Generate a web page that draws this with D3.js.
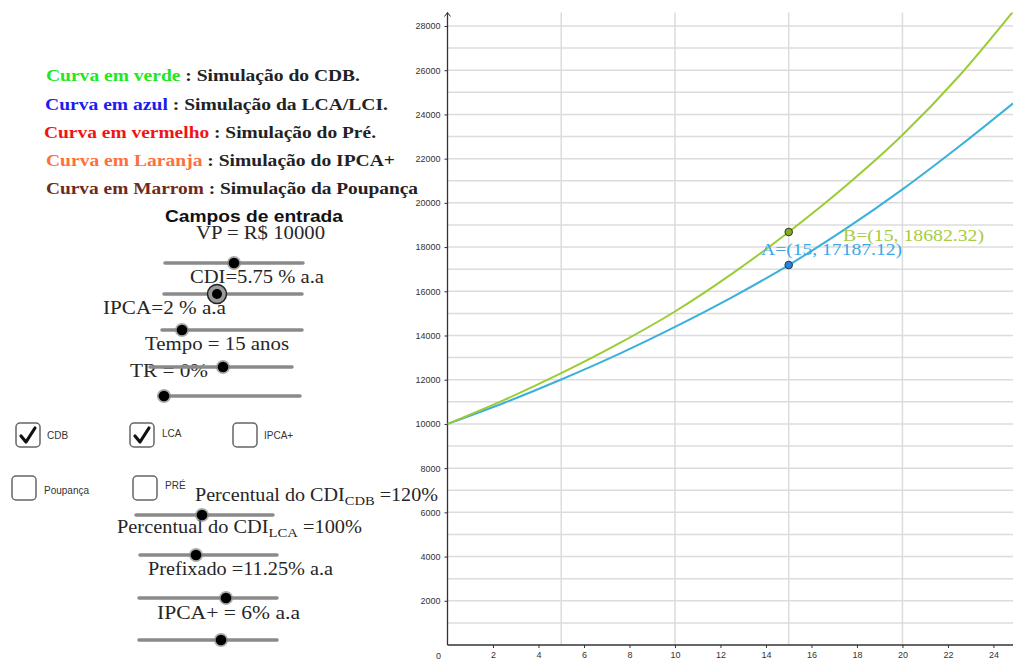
<!DOCTYPE html>
<html>
<head>
<meta charset="utf-8">
<script src="https://cdn.jsdelivr.net/npm/d3@7"></script>
<style>
  html, body { margin: 0; padding: 0; background: #fff; }
  svg { display: block; }
</style>
</head>
<body>
<svg id="chart" width="1013" height="663"></svg>
<script>
// ---------- data ----------
const years = [0, 2.5, 5, 7.5, 10, 12.5, 15, 17.5, 20, 22.5, 24.86];
const cdbValues = [10000, 11088, 12294, 13619, 15086, 16788, 18682, 20760, 23068, 25750, 28650];
const lcaValues = [10000, 10959, 12010, 13146, 14389, 15726, 17187, 18821, 20610, 22560, 24500];
const pointA = { name: "A", x: 15, y: 17187.12 };
const pointB = { name: "B", x: 15, y: 18682.32 };
const xTicks = [2, 4, 6, 8, 10, 12, 14, 16, 18, 20, 22, 24];
const yTicks = [2000, 4000, 6000, 8000, 10000, 12000, 14000, 16000, 18000, 20000, 22000, 24000, 26000, 28000];
const xGrid = [5, 10, 15, 20];
const yGrid = d3.range(1000, 28001, 1000);

const legendLines = [
  { color: "#22e622", colored: "Curva em verde", rest: " : Simulação do CDB." },
  { color: "#1c1cf0", colored: "Curva em azul", rest: " : Simulação da LCA/LCI." },
  { color: "#f01414", colored: "Curva em vermelho", rest: " : Simulação do Pré." },
  { color: "#ff6e3c", colored: "Curva em Laranja", rest: " : Simulação do IPCA+" },
  { color: "#6e2a1c", colored: "Curva em Marrom", rest: " : Simulação da Poupança" }
];

const svg = d3.select("#chart");
svg.append("rect").attr("width", 1013).attr("height", 663).attr("fill", "#fff");

// ---------- scales ----------
const x = d3.scaleLinear().domain([0, 24.86]).range([447.5, 1013]);
const y = d3.scaleLinear().domain([0, 28000]).range([645, 26]);
const plotTop = 12.5;

// ---------- grid ----------
const grid = svg.append("g");
grid.selectAll("line.h").data(yGrid).join("line")
  .attr("x1", x(0)).attr("x2", 1013)
  .attr("y1", d => y(d)).attr("y2", d => y(d))
  .attr("stroke", "#dcdcdc").attr("stroke-width", 1.5);
grid.selectAll("line.v").data(xGrid).join("line")
  .attr("x1", d => x(d)).attr("x2", d => x(d))
  .attr("y1", plotTop).attr("y2", y(0))
  .attr("stroke", "#dcdcdc").attr("stroke-width", 1.5);

// ---------- axes ----------
const xAxis = d3.axisBottom(x).tickValues(xTicks).tickSize(3).tickPadding(4).tickFormat(d3.format("d"));
const yAxis = d3.axisLeft(y).tickValues(yTicks).tickSize(3).tickPadding(4).tickFormat(d3.format("d"));
const gx = svg.append("g").attr("transform", `translate(0,${y(0)})`).call(xAxis);
const gy = svg.append("g").attr("transform", `translate(${x(0)},0)`).call(yAxis);
[gx, gy].forEach(g => {
  g.select(".domain").remove();
  g.selectAll("line").attr("stroke", "#333").attr("stroke-width", 1);
  g.selectAll("text").attr("font-family", "Liberation Sans, Arial, sans-serif")
    .attr("font-size", 9).attr("fill", "#333");
});
svg.append("line").attr("x1", x(0)).attr("x2", 1013).attr("y1", y(0)).attr("y2", y(0))
  .attr("stroke", "#333").attr("stroke-width", 1.3);
svg.append("line").attr("x1", x(0)).attr("x2", x(0)).attr("y1", y(0)).attr("y2", plotTop)
  .attr("stroke", "#333").attr("stroke-width", 1.3);
svg.append("path").attr("d", `M${x(0)-3},${plotTop+4} L${x(0)},${plotTop} L${x(0)+3},${plotTop+4}`)
  .attr("fill", "none").attr("stroke", "#333").attr("stroke-width", 1);
svg.append("text").attr("x", x(0) - 9).attr("y", y(0) + 14).attr("text-anchor", "middle")
  .attr("font-family", "Liberation Sans, Arial, sans-serif").attr("font-size", 9).attr("fill", "#333").text("0");

// ---------- curves ----------
svg.append("clipPath").attr("id", "plotclip").append("rect")
  .attr("x", x(0)).attr("y", plotTop).attr("width", 1013 - x(0)).attr("height", y(0) - plotTop);
const line = d3.line().x(d => x(d[0])).y(d => y(d[1])).curve(d3.curveMonotoneX);
const curves = svg.append("g").attr("clip-path", "url(#plotclip)");
curves.append("path").datum(years.map((t, i) => [t, lcaValues[i]])).attr("d", line)
  .attr("fill", "none").attr("stroke", "#3ab0da").attr("stroke-width", 2);
curves.append("path").datum(years.map((t, i) => [t, cdbValues[i]])).attr("d", line)
  .attr("fill", "none").attr("stroke", "#9ccc35").attr("stroke-width", 2);

// ---------- points and labels ----------
svg.append("circle").attr("cx", x(pointB.x)).attr("cy", y(pointB.y)).attr("r", 3.8)
  .attr("fill", "#7faf1c").attr("stroke", "#333").attr("stroke-width", 1);
svg.append("circle").attr("cx", x(pointA.x)).attr("cy", y(pointA.y)).attr("r", 3.8)
  .attr("fill", "#1e88e5").attr("stroke", "#333").attr("stroke-width", 1);
svg.append("text").attr("x", 843).attr("y", 241)
  .attr("font-family", "Liberation Serif, serif").attr("font-size", 17).attr("fill", "#a6cc3e")
  .attr("textLength", 141).attr("lengthAdjust", "spacingAndGlyphs")
  .text(`${pointB.name}=(${pointB.x}, ${pointB.y.toFixed(2)})`);
svg.append("text").attr("x", 761).attr("y", 255)
  .attr("font-family", "Liberation Serif, serif").attr("font-size", 17).attr("fill", "#3aa6ea")
  .attr("textLength", 141).attr("lengthAdjust", "spacingAndGlyphs")
  .text(`${pointA.name}=(${pointA.x}, ${pointA.y.toFixed(2)})`);

// ---------- legend text ----------
const legendPos = [
  { x: 46, y: 81, w: 314 }, { x: 45, y: 110, w: 343 }, { x: 44, y: 138, w: 332 },
  { x: 46, y: 166, w: 349 }, { x: 46, y: 194, w: 372 }
];
legendLines.forEach((l, i) => {
  const p = legendPos[i];
  const t = svg.append("text").attr("x", p.x).attr("y", p.y)
    .attr("font-family", "Liberation Serif, serif").attr("font-size", 17.5).attr("font-weight", "bold")
    .attr("textLength", p.w).attr("lengthAdjust", "spacingAndGlyphs");
  t.append("tspan").attr("fill", l.color).text(l.colored);
  t.append("tspan").attr("fill", "#222").text(l.rest);
});

svg.append("text").attr("x", 165).attr("y", 222)
  .attr("font-family", "Liberation Sans, Arial, sans-serif").attr("font-size", 16).attr("font-weight", "bold")
  .attr("fill", "#111").attr("textLength", 178).attr("lengthAdjust", "spacingAndGlyphs")
  .text("Campos de entrada");

// ---------- serif labels ----------
function serifLabel(px, py, w, parts) {
  const t = svg.append("text").attr("x", px).attr("y", py)
    .attr("font-family", "Liberation Serif, serif").attr("font-size", 18).attr("fill", "#262626")
    .attr("textLength", w).attr("lengthAdjust", "spacingAndGlyphs");
  parts.forEach(p => {
    if (typeof p === "string") t.append("tspan").text(p);
    else {
      t.append("tspan").attr("font-size", 13).attr("dy", 4).text(p.sub);
      t.append("tspan").attr("dy", -4).text(p.after);
    }
  });
}
serifLabel(196, 239, 129, ["VP = R$ 10000"]);
serifLabel(190, 283, 134, ["CDI=5.75 % a.a"]);
serifLabel(103, 314, 123, ["IPCA=2 % a.a"]);
serifLabel(145, 350, 144, ["Tempo = 15 anos"]);
serifLabel(130, 377, 78, ["TR = 0%"]);
serifLabel(195, 501, 243, ["Percentual do CDI", { sub: "CDB", after: " =120%" }]);
serifLabel(117, 533, 245, ["Percentual do CDI", { sub: "LCA", after: " =100%" }]);
serifLabel(148, 575, 185, ["Prefixado =11.25% a.a"]);
serifLabel(157, 619, 143, ["IPCA+ = 6% a.a"]);

// ---------- sliders ----------
const sliders = [
  { x1: 165, x2: 303, y: 263, k: 234 },
  { x1: 164, x2: 302, y: 294, k: 217, sel: true },
  { x1: 162, x2: 302, y: 330, k: 182 },
  { x1: 150, x2: 292, y: 367, k: 223 },
  { x1: 159, x2: 300, y: 396, k: 164 },
  { x1: 136, x2: 273, y: 515, k: 202 },
  { x1: 140, x2: 277, y: 555, k: 196 },
  { x1: 139, x2: 277, y: 598, k: 226 },
  { x1: 139, x2: 277, y: 640, k: 221 }
];
const sg = svg.append("g");
sliders.forEach(s => {
  sg.append("line").attr("x1", s.x1).attr("x2", s.x2).attr("y1", s.y).attr("y2", s.y)
    .attr("stroke", "#8a8a8a").attr("stroke-width", 3.5).attr("stroke-linecap", "round");
  if (s.sel) {
    sg.append("circle").attr("cx", s.k).attr("cy", s.y).attr("r", 9.5)
      .attr("fill", "#9a9a9a").attr("stroke", "#222").attr("stroke-width", 1.5);
    sg.append("circle").attr("cx", s.k).attr("cy", s.y).attr("r", 5).attr("fill", "#000");
  } else {
    sg.append("circle").attr("cx", s.k).attr("cy", s.y).attr("r", 7).attr("fill", "#888").attr("opacity", 0.7);
    sg.append("circle").attr("cx", s.k).attr("cy", s.y).attr("r", 5.3).attr("fill", "#000");
  }
});

// ---------- checkboxes ----------
const boxes = [
  { x: 16, y: 423, label: "CDB", lx: 47, ly: 439, checked: true },
  { x: 130, y: 423, label: "LCA", lx: 162, ly: 437, checked: true },
  { x: 233, y: 423, label: "IPCA+", lx: 264, ly: 439, checked: false },
  { x: 12, y: 476, label: "Poupança", lx: 44, ly: 494, checked: false },
  { x: 133, y: 476, label: "PRÉ", lx: 165, ly: 489, checked: false }
];
const cb = svg.append("g");
boxes.forEach(b => {
  cb.append("rect").attr("x", b.x).attr("y", b.y).attr("width", 24).attr("height", 24).attr("rx", 4)
    .attr("fill", "#fff").attr("stroke", "#666").attr("stroke-width", 1.5);
  if (b.checked) {
    cb.append("path").attr("d", `M${b.x+5},${b.y+13} L${b.x+10},${b.y+19} L${b.x+19},${b.y+5}`)
      .attr("fill", "none").attr("stroke", "#111").attr("stroke-width", 3.2)
      .attr("stroke-linecap", "round").attr("stroke-linejoin", "round");
  }
  cb.append("text").attr("x", b.lx).attr("y", b.ly)
    .attr("font-family", "Liberation Sans, Arial, sans-serif").attr("font-size", 10).attr("fill", "#333")
    .text(b.label);
});
</script>
</body>
</html>
